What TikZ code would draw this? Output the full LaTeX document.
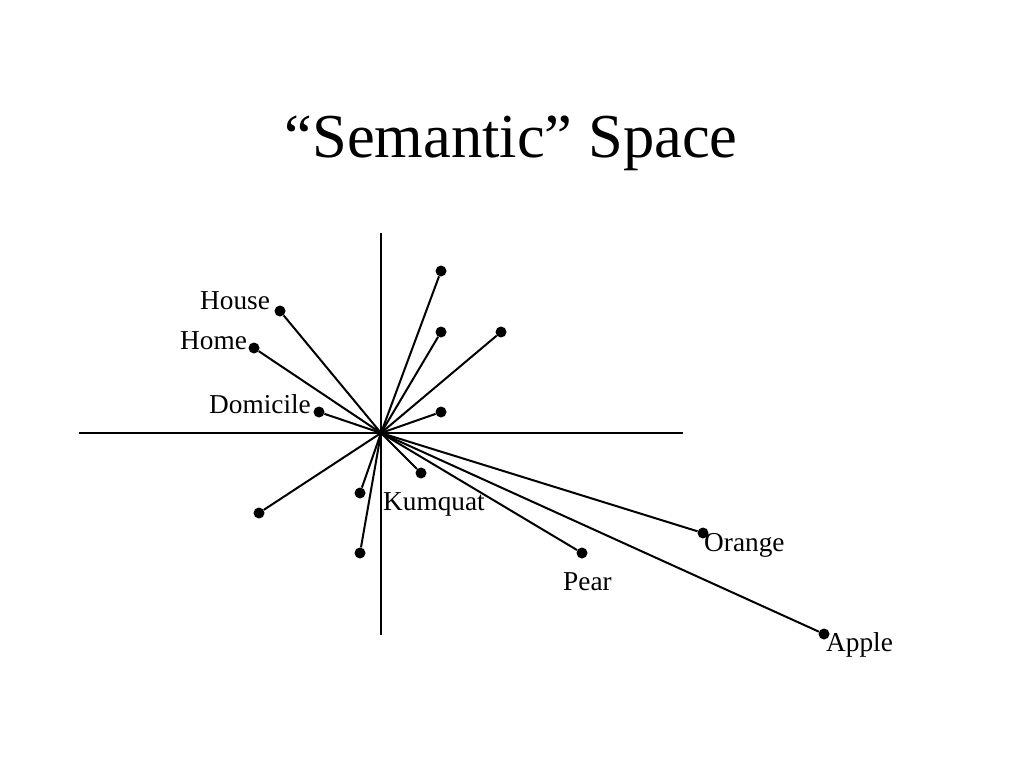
\documentclass[tikz,border=0pt]{standalone}
\usepackage{fontspec}
\setmainfont{Liberation Serif}
\begin{document}
\begin{tikzpicture}[x=1pt,y=-1pt,
  dot/.style={circle,fill=black,inner sep=0pt,minimum size=11pt},
  lbl/.style={anchor=base west,inner sep=0pt,font=\fontsize{27.3}{30}\selectfont},
  ray/.style={line width=2pt},
  axis/.style={line width=2pt}]
\useasboundingbox[fill=white] (0,0) rectangle (1024,768);
\node[anchor=base,inner sep=0pt,font=\fontsize{62.5}{70}\selectfont] (title) at (511,157) {“Semantic” Space};
\coordinate (o) at (381,433);
\coordinate (xl) at (79,433);
\coordinate (xr) at (683,433);
\coordinate (yt) at (381,233);
\coordinate (yb) at (381,635);
\draw[axis] (xl) -- (xr);
\draw[axis] (yt) -- (yb);
\node[dot] (a1) at (441,271) {};
\node[dot] (a2) at (441,332) {};
\node[dot] (a3) at (501,332) {};
\node[dot] (a4) at (441,412) {};
\node[dot] (house) at (280,311) {};
\node[dot] (home) at (254,348) {};
\node[dot] (domicile) at (319,412) {};
\node[dot] (b1) at (259,513) {};
\node[dot] (b2) at (360,493) {};
\node[dot] (b3) at (360,553) {};
\node[dot] (kumquat) at (421,473) {};
\node[dot] (pear) at (582,553) {};
\node[dot] (orange) at (703,533) {};
\node[dot] (apple) at (824,634) {};
\foreach \p in {a1,a2,a3,a4,house,home,domicile,b1,b2,b3,kumquat,pear,orange,apple}
  \draw[ray] (o) -- (\p);
\node[lbl] (lhouse) at (200,309) {House};
\node[lbl] (lhome) at (180,349) {Home};
\node[lbl] (ldomicile) at (209,413) {Domicile};
\node[lbl] (lkumquat) at (383,510) {Kumquat};
\node[lbl] (lorange) at (704,551) {Orange};
\node[lbl] (lpear) at (563,590) {Pear};
\node[lbl] (lapple) at (826,651) {Apple};
\end{tikzpicture}
\end{document}
